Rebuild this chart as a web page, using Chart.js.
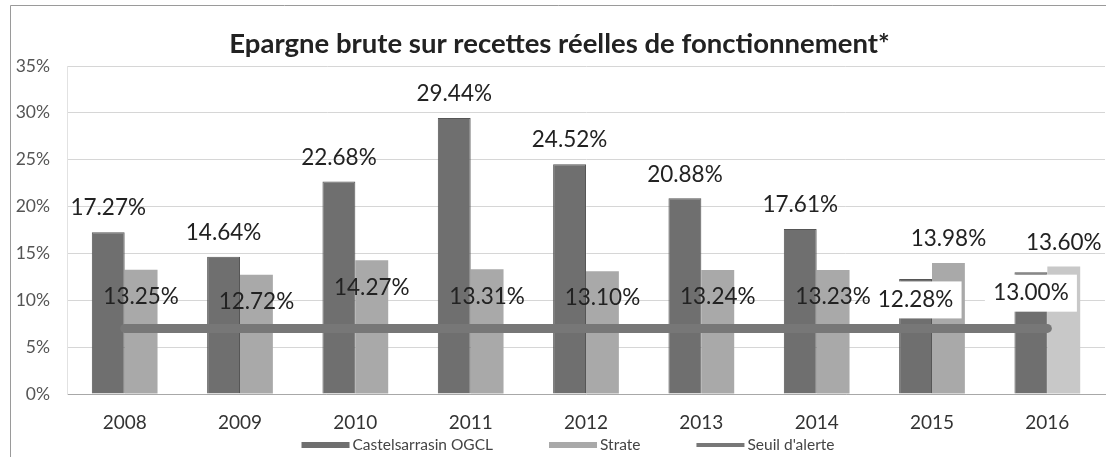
<!DOCTYPE html>
<html>
<head>
<meta charset="utf-8">
<script src="https://cdn.jsdelivr.net/npm/chart.js@4"></script>
<style>
  body { margin: 0; background: #fff; }
</style>
</head>
<body>
<canvas id="epargneChart" width="1106" height="457"></canvas>
<script>
// Data
const years = ['2008', '2009', '2010', '2011', '2012', '2013', '2014', '2015', '2016'];
const castelsarrasin = [17.27, 14.64, 22.68, 29.44, 24.52, 20.88, 17.61, 12.28, 13.00];
const strate = [13.25, 12.72, 14.27, 13.31, 13.10, 13.24, 13.23, 13.98, 13.60];
const seuilAlerte = [7, 7, 7, 7, 7, 7, 7, 7, 7];
const yTicks = [0, 5, 10, 15, 20, 25, 30, 35];

// the last two years were patched by hand in the source picture
const patchedYears = ['2015', '2016'];

// Percent labels over the bars
const valueLabels = {
  id: 'valueLabels',
  afterDatasetsDraw(chart) {
    const ctx = chart.ctx;
    ctx.save();
    ctx.font = '22.5px Lato';
    ctx.textAlign = 'center';
    ctx.textBaseline = 'middle';
    [0, 1].forEach(di => {
      const meta = chart.getDatasetMeta(di);
      meta.data.forEach((bar, i) => {
        const v = chart.data.datasets[di].data[i];
        const patched = patchedYears.includes(years[i]);
        let y;
        if (di === 0) {
          y = patched ? bar.y + 21 : bar.y - 24;
        } else {
          y = patched ? bar.y - 24 : bar.y + 27;
        }
        if (di === 0 && patched) {
          ctx.fillStyle = '#ffffff';
          ctx.fillRect(bar.x - 46, y - 18.5, 92, 37);
        }
        ctx.fillStyle = '#222';
        ctx.fillText(v.toFixed(2) + '%', bar.x, y);
      });
    });
    ctx.restore();
  }
};

// Legend drawn by hand so the items can be spread like in the scan
const spreadLegend = {
  id: 'spreadLegend',
  afterDraw(chart) {
    const ctx = chart.ctx;
    const sets = chart.data.datasets;
    const boxW = 48, textGap = 3, itemGap = 56, centerX = 568, y = 445;
    ctx.save();
    ctx.font = '15.5px Lato';
    ctx.textBaseline = 'middle';
    const widths = sets.map(ds => boxW + textGap + ctx.measureText(ds.label).width);
    const total = widths.reduce((a, b) => a + b, 0) + itemGap * (sets.length - 1);
    let x = centerX - total / 2;
    sets.forEach((ds, i) => {
      ctx.fillStyle = ds.type === 'line' ? ds.borderColor : (typeof ds.backgroundColor === 'string' ? ds.backgroundColor : '#a9a9a9');
      if (ds.type === 'line') {
        ctx.fillRect(x, y - 2, boxW, 4);
      } else {
        ctx.fillRect(x, y - 3, boxW, 6);
      }
      ctx.fillStyle = '#444';
      ctx.fillText(ds.label, x + boxW + textGap, y);
      x += widths[i] + itemGap;
    });
    ctx.restore();
  }
};

// white page with the scan's frame on the left and top
const frame = {
  id: 'frame',
  beforeDraw(chart) {
    const ctx = chart.ctx;
    ctx.save();
    ctx.fillStyle = '#fff';
    ctx.fillRect(0, 0, chart.width, chart.height);
    ctx.strokeStyle = '#9a9a9a';
    ctx.lineWidth = 1;
    ctx.beginPath();
    ctx.moveTo(10.5, chart.height);
    ctx.lineTo(10.5, 5.5);
    ctx.lineTo(chart.width, 5.5);
    ctx.stroke();
    ctx.restore();
  }
};

document.addEventListener('DOMContentLoaded', function() {
  const ctx = document.getElementById('epargneChart').getContext('2d');

  new Chart(ctx, {
    type: 'bar',
    data: {
      labels: years,
      datasets: [{
        label: 'Castelsarrasin OGCL',
        data: castelsarrasin,
        backgroundColor: '#6f6f6f',
        borderColor: '#565656',
        borderWidth: 1,
        order: 1
      }, {
        label: 'Strate',
        data: strate,
        backgroundColor: c => c.dataIndex === years.length - 1 ? '#c8c8c8' : '#a9a9a9',
        borderWidth: 0,
        order: 1
      }, {
        type: 'line',
        label: "Seuil d'alerte",
        data: seuilAlerte,
        borderColor: '#777777',
        backgroundColor: '#777777',
        borderWidth: 9,
        borderCapStyle: 'round',
        pointRadius: 0,
        fill: false,
        order: 0
      }]
    },
    options: {
      responsive: false,
      animation: false,
      datasets: {
        bar: {
          categoryPercentage: 0.57,
          barPercentage: 1.0
        }
      },
      layout: {
        padding: { left: 14, right: 1, top: 0, bottom: 0 }
      },
      scales: {
        x: {
          grid: { display: false },
          border: { display: true, color: '#a8a8a8' },
          ticks: {
            color: '#333',
            padding: 9,
            font: { family: 'Lato', size: 19 }
          },
          afterFit: scale => { scale.height = 63; }
        },
        y: {
          min: 0,
          max: 35,
          afterBuildTicks: scale => { scale.ticks = yTicks.map(v => ({ value: v })); },
          grid: { color: '#d6d6d6', drawTicks: false },
          border: { display: true, color: '#e2e2e2' },
          ticks: {
            color: '#555',
            padding: 17,
            font: { family: 'Lato', size: 17.5 },
            callback: v => v + '%'
          },
          afterFit: scale => { scale.width = 53; }
        }
      },
      plugins: {
        title: {
          display: true,
          text: 'Epargne brute sur recettes réelles de fonctionnement*',
          color: '#222',
          font: { family: 'Lato', size: 27.5, weight: 'bold' },
          padding: { top: 28, bottom: 5 }
        },
        legend: { display: false },
        tooltip: { enabled: false }
      }
    },
    plugins: [frame, valueLabels, spreadLegend]
  });
});
</script>
</body>
</html>
